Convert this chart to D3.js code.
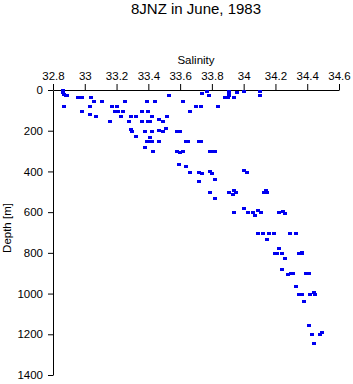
<!DOCTYPE html>
<html>
<head>
<meta charset="utf-8">
<script src="https://cdn.jsdelivr.net/npm/d3@7"></script>
<style>
  body { margin: 0; background: #fff; }
  text { font-family: "Liberation Sans", Arial, sans-serif; fill: #000; }
</style>
</head>
<body>
<svg id="chart"></svg>
<script>
// salinity / depth pairs
const salinity = [
  32.86, 32.86, 32.87, 32.88, 32.89, 32.96, 32.98, 33.04, 33.06, 33.11,
  33.25, 33.39, 33.44, 33.53, 33.62, 33.70, 32.87, 33.03, 33.17, 33.20,
  32.98, 33.19, 33.21, 33.24, 33.36, 33.40, 33.66, 33.03, 33.07, 33.23,
  33.29, 33.32, 33.42, 33.52, 33.16, 33.28, 33.36, 33.40, 33.41, 33.47,
  33.49, 33.29, 33.30, 33.38, 33.42, 33.47, 33.49, 33.51, 33.58, 33.60,
  33.32, 33.41, 33.39, 33.41, 33.42, 33.47, 33.64, 33.65, 33.72, 33.73,
  33.38, 33.43, 33.58, 33.60, 33.62, 33.79, 33.81, 33.82, 33.59, 33.64,
  33.66, 33.72, 33.74, 33.79, 33.80, 33.82, 33.72, 34.00, 34.02, 33.79,
  33.82, 33.91, 33.93, 33.94, 33.95, 34.13, 34.14, 34.15, 34.00, 33.94,
  34.03, 34.06, 34.07, 34.09, 34.11, 34.22, 34.25, 34.26, 34.09, 34.12,
  34.16, 34.19, 34.29, 34.33, 34.15, 34.22, 34.20, 34.21, 34.24, 34.35,
  34.37, 34.37, 34.26, 34.24, 34.28, 34.30, 34.31, 34.39, 34.41, 34.33,
  34.35, 34.37, 34.42, 34.44, 34.45, 34.38, 34.41, 34.43, 34.48, 34.49,
  34.44, 33.74, 33.77, 33.78, 33.91, 33.91, 33.91, 33.90, 33.88, 33.94,
  33.96, 34.00, 34.10, 34.10, 33.73, 33.84
];
const depth = [
  0, 10, 20, 25, 25, 33, 33, 34, 53, 53,
  53, 55, 53, 23, 53, 77, 77, 77, 77, 77,
  103, 103, 103, 103, 103, 103, 103, 118, 128, 128,
  128, 128, 128, 128, 154, 154, 154, 154, 154, 142,
  154, 193, 203, 203, 203, 198, 203, 188, 200, 203,
  227, 232, 252, 252, 252, 252, 249, 252, 249, 252,
  278, 301, 301, 305, 301, 298, 298, 301, 365, 373,
  403, 403, 406, 400, 406, 439, 447, 394, 403, 502,
  529, 502, 512, 493, 502, 502, 493, 502, 580, 601,
  601, 601, 616, 589, 601, 601, 594, 603, 701, 704,
  704, 704, 704, 704, 733, 776, 802, 802, 802, 802,
  794, 802, 827, 881, 902, 900, 900, 900, 900, 961,
  1000, 1000, 1000, 991, 1000, 1036, 1156, 1200, 1200, 1190,
  1244, 13, 3, 23, 3, 15, 25, 34, 33, 33,
  11, 3, 3, 23, 79, 77
];
const salinityTicks = [32.8, 33, 33.2, 33.4, 33.6, 33.8, 34, 34.2, 34.4, 34.6];
const salinityLabels = ["32.8", "33", "33.2", "33.4", "33.6", "33.8", "34", "34.2", "34.4", "34.6"];
const depthTicks = [0, 200, 400, 600, 800, 1000, 1200, 1400];

const width = 353, height = 384;

const svg = d3.select("#chart")
    .attr("width", width)
    .attr("height", height);

const x = d3.scaleLinear().domain([32.8, 34.6]).range([53, 339]);
const y = d3.scaleLinear().domain([0, 1400]).range([90, 375]);

svg.append("text")
    .attr("x", 196)
    .attr("y", 14)
    .attr("text-anchor", "middle")
    .style("font-size", "15px")
    .text("8JNZ in June, 1983");

svg.append("text")
    .attr("x", 196)
    .attr("y", 64)
    .attr("text-anchor", "middle")
    .style("font-size", "11.5px")
    .text("Salinity");

svg.append("text")
    .attr("transform", "translate(11,228) rotate(-90)")
    .attr("text-anchor", "middle")
    .style("font-size", "11.5px")
    .text("Depth [m]");

svg.append("g")
    .attr("transform", "translate(0,90)")
    .call(d3.axisTop(x)
        .tickValues(salinityTicks)
        .tickFormat((d, i) => salinityLabels[i])
        .tickSizeInner(6)
        .tickSizeOuter(0)
        .tickPadding(4));

svg.append("g")
    .attr("transform", "translate(53,0)")
    .call(d3.axisLeft(y)
        .tickValues(depthTicks)
        .tickFormat(d3.format("d"))
        .tickSizeInner(5)
        .tickSizeOuter(0)
        .tickPadding(5));

svg.selectAll(".tick text")
    .style("font-family", "'Liberation Sans', Arial, sans-serif")
    .style("font-size", "11.5px");
svg.selectAll(".domain, .tick line").attr("stroke", "#000");

const points = salinity.map((s, i) => ({ s: s, d: depth[i] }));

svg.append("g")
    .selectAll("rect")
    .data(points)
    .enter().append("rect")
    .attr("x", d => Math.round(x(d.s)) - 2)
    .attr("y", d => Math.round(y(d.d)) - 1)
    .attr("width", 4)
    .attr("height", 3)
    .attr("fill", "#0000f0")
    .attr("shape-rendering", "crispEdges");
</script>
</body>
</html>
